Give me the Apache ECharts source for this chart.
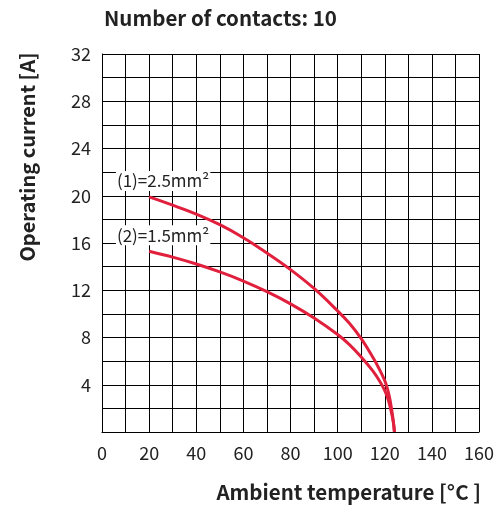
<!DOCTYPE html>
<html lang="en">
<head>
	<meta charset="UTF-8">
	<title>Operating current</title>
	<style>
		body, div {
			margin: 0;
			padding: 0;
		}
		#main {
			width: 497px;
			height: 512px;
		}
	</style>
</head>
<body>
	<div id="main"></div>
	<script src="https://cdn.jsdelivr.net/npm/echarts@6/dist/echarts.min.js"></script>
	<script>
	// derating curves
	var temp1 = [20, 30, 40, 50, 60, 70, 80, 90, 100, 105, 110, 115, 118, 120, 121, 122, 123, 123.7, 124.1];
	var curr1 = [19.9, 19.2, 18.45, 17.55, 16.45, 15.15, 13.75, 12.15, 10.25, 9.2, 7.9, 6.3, 5.2, 4.35, 3.75, 2.95, 1.8, 0.8, 0];
	var temp2 = [20, 30, 40, 50, 60, 70, 80, 90, 100, 105, 110, 115, 118, 120, 121, 122, 123, 123.7, 124.1];
	var curr2 = [15.3, 14.8, 14.22, 13.55, 12.78, 11.88, 10.85, 9.65, 8.25, 7.4, 6.35, 5.15, 4.25, 3.5, 3.0, 2.35, 1.5, 0.75, 0];
	var names = ['(1)=2.5mm²', '(2)=1.5mm²'];
	var xTicks = [0, 20, 40, 60, 80, 100, 120, 140, 160];
	var yTicks = [4, 8, 12, 16, 20, 24, 28, 32];

	var font = 'Noto Sans CJK JP';
	var red = '#e0203c';

	function pairs(xs, ys, label) {
		return xs.map(function (x, i) {
			var p = { value: [x, ys[i]] };
			if (i === 0) {
				p.label = {
					show: true,
					formatter: label,
					position: 'top',
					offset: [14, -1],
					color: '#222',
					fontFamily: font,
					fontSize: 17,
					lineHeight: 20,
					backgroundColor: '#fff',
					padding: [0, 1, 0, 1]
				};
			}
			return p;
		});
	}

	var myEcharts = echarts.init(document.getElementById('main'));
	myEcharts.setOption({
		animation: false,
		grid: { left: 102, top: 54, right: 15, bottom: 80 },
		graphic: [
			{ type: 'text', left: 104, top: 8,
			  style: { text: 'Number of contacts: 10', font: 'bold 20.5px "Noto Sans CJK JP"', fill: '#222' } },
			{ type: 'text', x: 27, y: 157, rotation: Math.PI / 2,
			  style: { text: 'Operating current [A]', font: 'bold 20px "Noto Sans CJK JP"', fill: '#222', align: 'center', verticalAlign: 'middle' } },
			{ type: 'text', right: 16, top: 482,
			  style: { text: 'Ambient temperature [°C ]', font: 'bold 20.5px "Noto Sans CJK JP"', fill: '#222' } }
		],
		xAxis: {
			type: 'value', min: 0, max: 160, interval: 10,
			axisLine: { lineStyle: { color: '#000', width: 1 } },
			axisTick: { show: false },
			splitLine: { lineStyle: { color: '#000', width: 1 } },
			axisLabel: {
				margin: 12, color: '#222', fontFamily: font, fontSize: 18,
				formatter: function (v) { return xTicks.indexOf(v) >= 0 ? String(v) : ''; }
			}
		},
		yAxis: {
			type: 'value', min: 0, max: 32, interval: 2,
			axisLine: { show: true, lineStyle: { color: '#000', width: 1 } },
			axisTick: { show: false },
			splitLine: { lineStyle: { color: '#000', width: 1 } },
			axisLabel: {
				margin: 11, color: '#222', fontFamily: font, fontSize: 18,
				formatter: function (v) { return yTicks.indexOf(v) >= 0 ? String(v) : ''; }
			}
		},
		series: [
			{ type: 'line', smooth: 0.4, symbol: 'circle', symbolSize: 0, showSymbol: true,
			  lineStyle: { color: red, width: 3 }, data: pairs(temp1, curr1, names[0]) },
			{ type: 'line', smooth: 0.4, symbol: 'circle', symbolSize: 0, showSymbol: true,
			  lineStyle: { color: red, width: 3 }, data: pairs(temp2, curr2, names[1]) }
		]
	});
	</script>
</body>
</html>
